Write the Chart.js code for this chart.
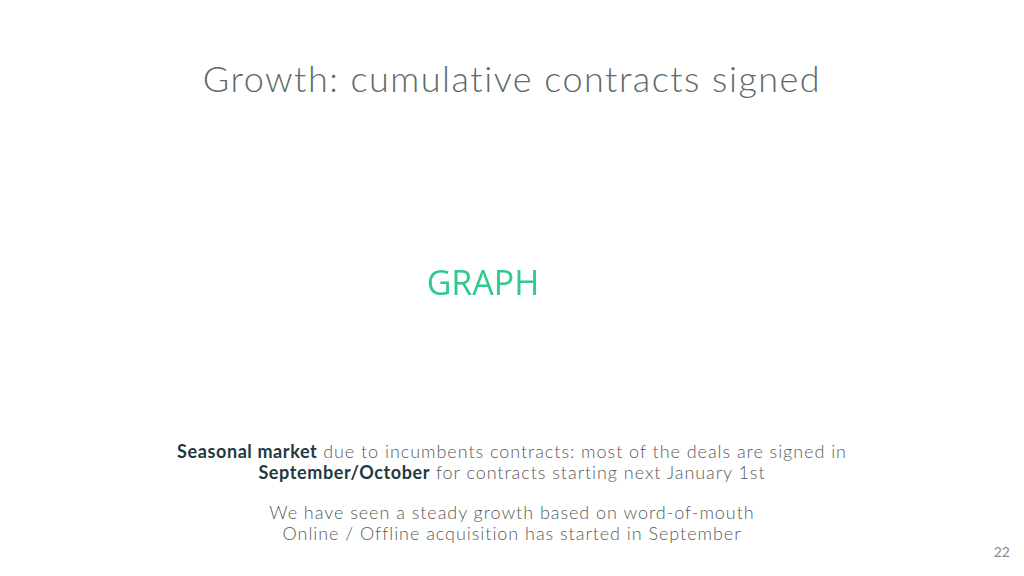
<!DOCTYPE html>
<html>
<head>
<meta charset="utf-8">
<title>Growth: cumulative contracts signed</title>
<script src="https://cdn.jsdelivr.net/npm/chart.js@4.4.1/dist/chart.umd.min.js"></script>
<style>
    html, body { margin: 0; padding: 0; background: #fff; }
    body { width: 1024px; height: 576px; position: relative; overflow: hidden; font-family: Lato, "Open Sans", sans-serif; }
    .title { position: absolute; left: 0; width: 1024px; top: 56px; text-align: center; font-weight: 300; font-size: 36px; color: #5d6a6a; letter-spacing: 1.5px; }
    .chart-box { position: absolute; left: 183px; top: 150px; width: 600px; height: 270px; }
    .notes { position: absolute; left: 0; width: 1024px; top: 441px; text-align: center; font-size: 18px; line-height: 20.5px; color: #5a5a5a; font-weight: 300; letter-spacing: 0.95px; }
    .notes b { color: #1e3a40; font-weight: 700; letter-spacing: 0.6px; }
    .notes p { margin: 0 0 20px 0; }
    .page { position: absolute; right: 14px; top: 543px; font-size: 14px; color: #8a8a8a; }
</style>
</head>
<body>
<div class="title">Growth: cumulative contracts signed</div>
<div class="chart-box"><canvas id="chart-growth"></canvas></div>
<div class="notes">
    <p><b>Seasonal market</b> due to incumbents contracts: most of the deals are signed in<br><b>September/October</b> for contracts starting next January 1st</p>
    <p>We have seen a steady growth based on word-of-mouth<br>Online / Offline acquisition has started in September</p>
</div>
<div class="page">22</div>
<script>
    // the slide only has a placeholder, no numbers yet
    var months = [];
    var contracts = [];
    var placeholder = "GRAPH";

    var placeholderPlugin = {
        id: 'placeholder',
        afterDraw: function (chart) {
            if (contracts.length) return;
            var ctx = chart.ctx;
            var area = chart.chartArea;
            ctx.save();
            ctx.font = '34px "Open Sans"';
            ctx.fillStyle = '#2fcb8e';
            ctx.textAlign = 'center';
            ctx.textBaseline = 'middle';
            ctx.fillText(placeholder, (area.left + area.right) / 2, (area.top + area.bottom) / 2);
            ctx.restore();
        }
    };

    new Chart(document.getElementById('chart-growth').getContext('2d'), {
        type: 'line',
        data: {
            labels: months,
            datasets: [{
                label: "",
                data: contracts,
                borderColor: "#2fcb8e",
                borderWidth: 2
            }]
        },
        options: {
            responsive: true,
            maintainAspectRatio: false,
            animation: false,
            layout: { padding: 0 },
            scales: {
                x: { display: false },
                y: { display: false }
            },
            plugins: {
                legend: { display: false },
                tooltip: { enabled: false }
            }
        },
        plugins: [placeholderPlugin]
    });
</script>
</body>
</html>
